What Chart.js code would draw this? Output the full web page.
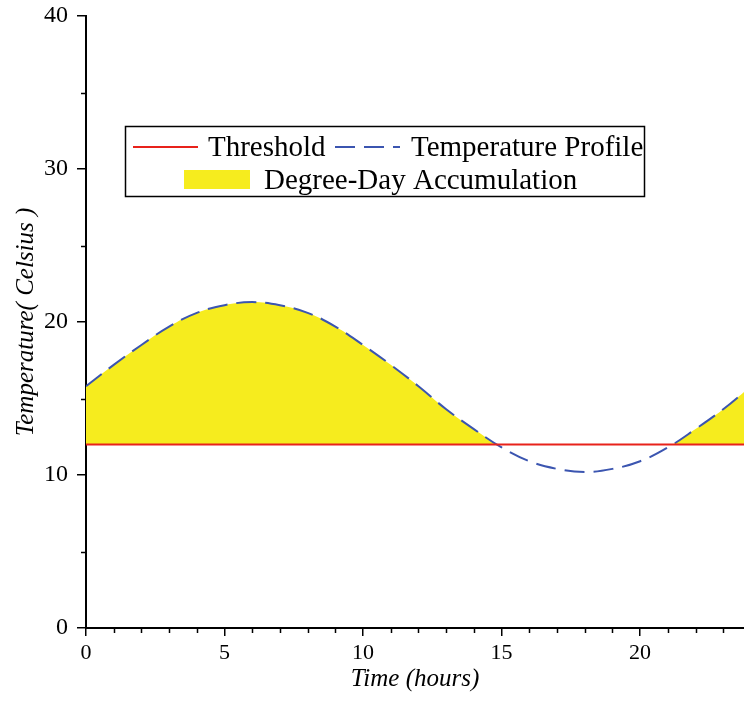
<!DOCTYPE html>
<html>
<head>
<meta charset="utf-8">
<script src="https://cdn.jsdelivr.net/npm/chart.js@4.4.1/dist/chart.umd.min.js"></script>
<style>
  html, body { margin: 0; padding: 0; background: #fff; }
  #wrap { width: 744px; height: 702px; }
</style>
</head>
<body>
<div id="wrap"><canvas id="ddChart"></canvas></div>
<script>
// values
const hours = [0,1,2,3,4,5,6,7,8,9,10,11,12,13,14,15,16,17,18,19,20,21,22,23,24];
const temps = [15.8,17.2,18.5,19.7,20.6,21.1,21.3,21.1,20.6,19.7,18.5,17.2,15.8,14.3,13.0,11.8,10.9,10.4,10.2,10.4,10.9,11.8,13.0,14.3,15.8];
const threshold = 12;
const xTicks = [0,5,10,15,20];
const xMinor = [1,2,3,4,6,7,8,9,11,12,13,14,16,17,18,19,21,22,23];
const yTicks = [0,10,20,30,40];
const yMinor = [5,15,25,35];

const RED = '#e8221b';
const BLUE = '#3b55b0';
const YELLOW = '#f6ec1e';
const SERIF = '"Liberation Serif", "Times New Roman", serif';

const profile = hours.map((h, i) => ({ x: h, y: temps[i] }));
const thresholdLine = [{ x: hours[0], y: threshold }, { x: hours[hours.length - 1], y: threshold }];

// small extra ticks between the labelled ones
const minorTicks = {
  id: 'minorTicks',
  afterDraw(chart) {
    const c = chart.ctx, xs = chart.scales.x, ys = chart.scales.y;
    c.save();
    c.strokeStyle = '#000';
    c.lineWidth = 1.5;
    c.beginPath();
    xMinor.forEach(v => {
      const px = Math.round(xs.getPixelForValue(v)) + 0.5;
      c.moveTo(px, ys.bottom);
      c.lineTo(px, ys.bottom + 5);
    });
    yMinor.forEach(v => {
      const py = Math.round(ys.getPixelForValue(v)) + 0.5;
      c.moveTo(xs.left, py);
      c.lineTo(xs.left - 5, py);
    });
    c.stroke();
    c.restore();
  }
};

// boxed legend sitting inside the plot
const boxLegend = {
  id: 'boxLegend',
  afterDraw(chart) {
    const c = chart.ctx;
    c.save();
    c.fillStyle = '#fff';
    c.fillRect(125, 126, 520, 71);
    c.strokeStyle = '#000';
    c.lineWidth = 1.5;
    c.strokeRect(125.5, 126.5, 519, 70);

    c.font = '29px ' + SERIF;
    c.fillStyle = '#000';
    c.textBaseline = 'middle';

    c.lineWidth = 2;
    c.strokeStyle = RED;
    c.beginPath(); c.moveTo(133, 147); c.lineTo(198, 147); c.stroke();
    c.fillText('Threshold', 208, 148);

    c.strokeStyle = BLUE;
    c.setLineDash([20, 9]);
    c.beginPath(); c.moveTo(335, 147); c.lineTo(400, 147); c.stroke();
    c.setLineDash([]);
    c.fillText('Temperature Profile', 411, 148);

    c.fillStyle = YELLOW;
    c.fillRect(184, 170, 66, 19);
    c.fillStyle = '#000';
    c.fillText('Degree-Day Accumulation', 264, 181);
    c.restore();
  }
};

new Chart(document.getElementById('ddChart'), {
  type: 'line',
  data: {
    datasets: [
      {
        label: 'Threshold',
        data: thresholdLine,
        borderColor: RED,
        borderWidth: 2,
        pointRadius: 0,
        fill: false
      },
      {
        label: 'Temperature Profile',
        data: profile,
        borderColor: BLUE,
        borderWidth: 2,
        borderDash: [20, 9],
        pointRadius: 0,
        tension: 0.4,
        fill: { target: { value: threshold }, above: YELLOW, below: 'rgba(0,0,0,0)' }
      }
    ]
  },
  plugins: [minorTicks, boxLegend],
  options: {
    responsive: true,
    maintainAspectRatio: false,
    animation: false,
    layout: { padding: { top: 16, right: 0, left: 0, bottom: 0 } },
    plugins: { legend: { display: false }, tooltip: { enabled: false } },
    scales: {
      x: {
        type: 'linear',
        min: 0,
        max: 23.75,
        afterBuildTicks: s => { s.ticks = xTicks.map(v => ({ value: v })); },
        afterFit: s => { s.height = 74; s.paddingLeft = 0; s.paddingRight = 0; },
        grid: { display: true, drawOnChartArea: false, drawTicks: true, tickLength: 8, color: '#000', lineWidth: 1.5 },
        border: { display: true, color: '#000', width: 2 },
        ticks: { color: '#000', font: { family: SERIF, size: 22 }, padding: 4, maxRotation: 0 },
        title: { display: true, text: 'Time (hours)', color: '#000', font: { family: SERIF, size: 25, style: 'italic' }, padding: { top: 2, bottom: 8 } }
      },
      y: {
        min: 0,
        max: 40,
        afterBuildTicks: s => { s.ticks = yTicks.map(v => ({ value: v })); },
        afterFit: s => { s.width = 86; s.paddingTop = 0; s.paddingBottom = 0; },
        grid: { display: true, drawOnChartArea: false, drawTicks: true, tickLength: 9, color: '#000', lineWidth: 1.5 },
        border: { display: true, color: '#000', width: 2 },
        ticks: { color: '#000', font: { family: SERIF, size: 24 }, padding: 9 },
        title: { display: true, text: 'Temperature( Celsius )', color: '#000', font: { family: SERIF, size: 25, style: 'italic' }, padding: { top: 11, bottom: 0 } }
      }
    }
  }
});
</script>
</body>
</html>
